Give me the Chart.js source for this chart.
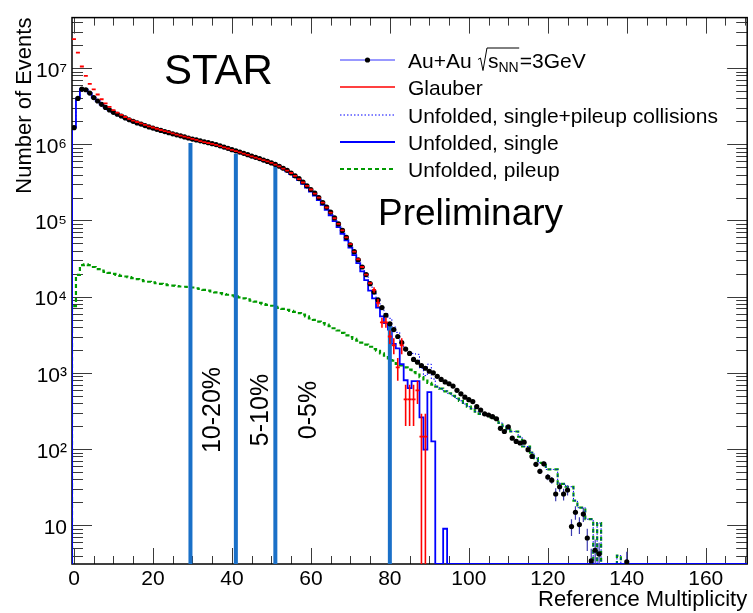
<!DOCTYPE html>
<html><head><meta charset="utf-8">
<script src="https://cdn.jsdelivr.net/npm/chart.js@4/dist/chart.umd.min.js"></script>
<style>html,body{margin:0;padding:0;background:#fff}canvas{display:block}</style>
</head><body>
<canvas id="c" width="753" height="613"></canvas>
<script>
// ---------------- data ----------------
const refMult = Array.from({length: 171}, (_, i) => i); // bin centres 0..170

const auau = [
1.65e6,4.0e6,5.3e6,5.2e6,4.7e6,4.1e6,3.7e6,3.35e6,3.05e6,2.82e6,
2.63e6,2.48e6,2.35e6,2.22e6,2.1e6,2.0e6,1.91e6,1.84e6,1.76e6,1.69e6,
1.63e6,1.57e6,1.52e6,1.47e6,1.42e6,1.37e6,1.33e6,1.29e6,1.25e6,1.21e6,
1.17e6,1.14e6,1.11e6,1.08e6,1.05e6,1.02e6,9.9e5,9.55e5,9.2e5,8.85e5,
8.5e5,8.2e5,7.9e5,7.6e5,7.3e5,7.0e5,6.75e5,6.5e5,6.2e5,5.95e5,
5.7e5,5.45e5,5.15e5,4.85e5,4.55e5,4.2e5,3.85e5,3.55e5,3.2e5,2.85e5,
2.55e5,2.28e5,2.0e5,1.72e5,1.5e5,1.29e5,1.08e5,9.0e4,7.4e4,6.0e4,
4.8e4,3.9e4,3.05e4,2.45e4,1.95e4,1.48e4,1.15e4,9.1e3,7.2e3,5.7e3,
4.4e3,3.7e3,3.0e3,2.5e3,2.05e3,1.8e3,1.5e3,1.38e3,1.25e3,1.15e3,
1.05e3,1.0e3,9.0e2,8.2e2,7.6e2,7.2e2,6.7e2,5.9e2,5.3e2,4.8e2,
4.45e2,4.2e2,3.6e2,3.25e2,2.9e2,2.8e2,2.66e2,2.5e2,1.87e2,1.7e2,
1.95e2,1.39e2,1.26e2,1.2e2,1.23e2,98,80,63,51,64,
43,39,25.7,32,25.7,29,9.6,14.8,10.2,14,
6.8,3.4,4.7,4.2,null,null,null,null,null,null,
3.3,null,null,null,null,null,null,null,null,null,
null,null,null,null,null,null,null,null,null,null,
null,null,null,null,null,null,null,null,null,null,
null
];
const auauErr = [
0,0,0,0,0,0,0,0,0,0, 0,0,0,0,0,0,0,0,0,0, 0,0,0,0,0,0,0,0,0,0,
0,0,0,0,0,0,0,0,0,0, 0,0,0,0,0,0,0,0,0,0, 0,0,0,0,0,0,0,0,0,0,
0,0,0,0,0,0,0,0,0,0, 0,0,0,0,0,0,0,0,0,0, 0,0,0,0,0,0,0,0,0,0,
0,0,0,0,0,0,0,0,0,0,
10,10,9,9,8,8,8,8,7,7,
7,6,6,6,6,5.5,5,4.5,4,4.5,
4,4,5,4.5,4.5,4.5,2.4,3,2.5,3,
2.2,1.5,1.8,1.7,0,0,0,0,0,0,
1.2,0,0,0,0,0,0,0,0,0, 0,0,0,0,0,0,0,0,0,0, 0,0,0,0,0,0,0,0,0,0,
0
];
const glauber = [
2.4e7,1.6e7,1.05e7,7.9e6,6.2e6,5.25e6,4.5e6,3.9e6,3.45e6,3.1e6,
2.8e6,2.6e6,2.43e6,2.28e6,2.16e6,2.05e6,1.96e6,1.88e6,1.8e6,1.72e6,
1.66e6,1.6e6,1.54e6,1.49e6,1.44e6,1.39e6,1.34e6,1.3e6,1.26e6,1.22e6,
1.18e6,1.14e6,1.1e6,1.07e6,1.04e6,1.01e6,9.8e5,9.45e5,9.1e5,8.8e5,
8.45e5,8.15e5,7.85e5,7.55e5,7.25e5,6.95e5,6.7e5,6.45e5,6.2e5,5.95e5,
5.7e5,5.42e5,5.12e5,4.8e5,4.5e5,4.2e5,3.85e5,3.5e5,3.15e5,2.85e5,
2.55e5,2.25e5,2.0e5,1.72e5,1.48e5,1.27e5,1.07e5,9.0e4,7.4e4,6.0e4,
4.9e4,3.9e4,3.1e4,2.45e4,1.95e4,1.5e4,1.23e4,8.3e3,4.6e3,4.6e3,
3.0e3,2.3e3,1.18e3,2.3e3,4.5e2,4.5e2,4.5e2,5.9e2,1.46e2,1.46e2,
null,null,null,null,null,null,null,null,null,null,
null,null,null,null,null,null,null,null,null,null,
null,null,null,null,null,null,null,null,null,null,
null,null,null,null,null,null,null,null,null,null,
null,null,null,null,null,null,null,null,null,null,
null,null,null,null,null,null,null,null,null,null,
null,null,null,null,null,null,null,null,null,null,
null,null,null,null,null,null,null,null,null,null,
null
];
const glauberErr = [
0,0,0,0,0,0,0,0,0,0, 0,0,0,0,0,0,0,0,0,0, 0,0,0,0,0,0,0,0,0,0,
0,0,0,0,0,0,0,0,0,0, 0,0,0,0,0,0,0,0,0,0, 0,0,0,0,0,0,0,0,0,0,
0,0,0,0,0,0,0,0,0,0,
0,0,0,0,0,0,1.0e3,1.0e3,7e2,7e2,
6e2,5.5e2,3.9e2,5.5e2,2.5e2,2.5e2,2.5e2,2e2,1.45e2,1.45e2,
0,0,0,0,0,0,0,0,0,0, 0,0,0,0,0,0,0,0,0,0, 0,0,0,0,0,0,0,0,0,0,
0,0,0,0,0,0,0,0,0,0, 0,0,0,0,0,0,0,0,0,0, 0,0,0,0,0,0,0,0,0,0,
0,0,0,0,0,0,0,0,0,0, 0,0,0,0,0,0,0,0,0,0,
0
];
const unfoldedSum = [
1.66e6,4.05e6,5.35e6,5.25e6,4.72e6,4.12e6,3.72e6,3.37e6,3.07e6,2.84e6,
2.65e6,2.5e6,2.36e6,2.23e6,2.11e6,2.01e6,1.92e6,1.85e6,1.77e6,1.7e6,
1.64e6,1.58e6,1.53e6,1.48e6,1.43e6,1.38e6,1.34e6,1.3e6,1.26e6,1.22e6,
1.18e6,1.15e6,1.12e6,1.09e6,1.06e6,1.03e6,1.0e6,9.6e5,9.25e5,8.9e5,
8.55e5,8.25e5,7.95e5,7.65e5,7.35e5,7.05e5,6.8e5,6.55e5,6.25e5,6.0e5,
5.75e5,5.45e5,5.15e5,4.8e5,4.5e5,4.15e5,3.8e5,3.45e5,3.1e5,2.78e5,
2.48e5,2.2e5,1.92e5,1.67e5,1.44e5,1.23e5,1.04e5,8.7e4,7.1e4,5.8e4,
4.9e4,3.95e4,3.1e4,2.5e4,2.0e4,1.55e4,1.2e4,9.5e3,7.3e3,6.0e3,
5.2e3,4.0e3,3.4e3,2.6e3,2.0e3,1.75e3,1.8e3,1.75e3,1.15e3,9.2e2,
1.3e3,8.3e2,6.6e2,6.2e2,5.8e2,5.4e2,5.0e2,4.6e2,4.3e2,3.9e2,
3.6e2,3.4e2,3.1e2,2.9e2,2.8e2,2.7e2,2.6e2,2.5e2,2.2e2,2.0e2,
1.8e2,1.7e2,1.7e2,1.45e2,1.08e2,1.08e2,90,76,66,66,
54,54,54,35,35,32,32,21,17,17,
12,12,0,10.7,0,0,0,0,4,0,
0,0,0,0,0,0,0,0,0,0, 0,0,0,0,0,0,0,0,0,0, 0,0,0,0,0,0,0,0,0,0,
0
];
const unfoldedSingle = [
1.65e6,4.0e6,5.3e6,5.2e6,4.7e6,4.1e6,3.7e6,3.35e6,3.05e6,2.82e6,
2.62e6,2.47e6,2.34e6,2.21e6,2.09e6,1.99e6,1.9e6,1.83e6,1.75e6,1.68e6,
1.62e6,1.56e6,1.51e6,1.46e6,1.41e6,1.36e6,1.32e6,1.28e6,1.24e6,1.2e6,
1.16e6,1.13e6,1.1e6,1.07e6,1.04e6,1.01e6,9.8e5,9.45e5,9.1e5,8.75e5,
8.4e5,8.1e5,7.8e5,7.5e5,7.2e5,6.9e5,6.65e5,6.4e5,6.1e5,5.85e5,
5.6e5,5.33e5,5.03e5,4.72e5,4.4e5,4.05e5,3.7e5,3.38e5,3.03e5,2.7e5,
2.4e5,2.12e5,1.85e5,1.6e5,1.38e5,1.17e5,9.8e4,8.2e4,6.7e4,5.5e4,
4.4e4,3.5e4,2.75e4,2.15e4,1.65e4,1.2e4,9.5e3,7.2e3,5.5e3,4.5e3,
3.7e3,2.4e3,2.1e3,1.3e3,8.0e2,6.3e2,7.8e2,7.8e2,2.6e2,98,
5.6e2,1.26e2,0,0,9,0,0,0,0,0,
0,0,0,0,0,0,0,0,0,0, 0,0,0,0,0,0,0,0,0,0, 0,0,0,0,0,0,0,0,0,0,
0,0,0,0,0,0,0,0,0,0, 0,0,0,0,0,0,0,0,0,0, 0,0,0,0,0,0,0,0,0,0,
0,0,0,0,0,0,0,0,0,0,
0
];
const unfoldedPileup = [
7.5e3,1.93e4,2.6e4,2.65e4,2.6e4,2.45e4,2.3e4,2.2e4,2.12e4,2.05e4,
1.99e4,1.93e4,1.88e4,1.84e4,1.8e4,1.75e4,1.7e4,1.65e4,1.6e4,1.57e4,
1.54e4,1.5e4,1.47e4,1.45e4,1.42e4,1.4e4,1.38e4,1.36e4,1.35e4,1.34e4,
1.32e4,1.29e4,1.26e4,1.23e4,1.2e4,1.17e4,1.14e4,1.11e4,1.08e4,1.06e4,
1.04e4,1.01e4,9.8e3,9.5e3,9.2e3,8.9e3,8.6e3,8.3e3,8.0e3,7.8e3,
7.6e3,7.35e3,7.1e3,6.9e3,6.7e3,6.5e3,6.3e3,6.1e3,5.8e3,5.5e3,
5.2e3,4.95e3,4.7e3,4.5e3,4.3e3,4.1e3,3.85e3,3.6e3,3.35e3,3.1e3,
2.95e3,2.8e3,2.65e3,2.5e3,2.35e3,2.2e3,2.05e3,1.95e3,1.8e3,1.68e3,
1.55e3,1.45e3,1.31e3,1.25e3,1.18e3,1.1e3,1.02e3,9.5e2,8.8e2,8.2e2,
7.4e2,7.0e2,6.6e2,6.2e2,5.7e2,5.4e2,5.0e2,4.6e2,4.3e2,3.9e2,
3.6e2,3.4e2,3.1e2,2.9e2,2.8e2,2.7e2,2.6e2,2.5e2,2.2e2,2.0e2,
1.8e2,1.7e2,1.7e2,1.45e2,1.08e2,1.08e2,90,76,66,66,
54,54,54,35,35,32,32,21,17,17,
12,12,0,10.7,0,0,0,0,4,0,
0,0,0,0,0,0,0,0,0,0, 0,0,0,0,0,0,0,0,0,0, 0,0,0,0,0,0,0,0,0,0,
0
];
// centrality cuts (multiplicity, height of the drawn line)
const cutPositions = [29.5, 41, 51, 80];
const cutHeights = [1.04e6, 7.5e5, 5.45e5, 4.3e3];
const centralityLabels = ['10-20%', '5-10%', '0-5%'];
const xTickValues = [0, 20, 40, 60, 80, 100, 120, 140, 160];
const yTickValues = [10, 1e2, 1e3, 1e4, 1e5, 1e6, 1e7];

// ---------------- configuration ----------------
const Y_MIN = 3.1, Y_MAX = 4.6e7, X_MIN = -0.5, X_MAX = 170.5, BIN_HALF = 0.5;
const FONT = "'Liberation Sans', Arial, Helvetica, sans-serif";
const C_BLUE = '#0000ff', C_RED = '#ff0000', C_GREEN = '#009a00', C_CUT = '#1a70c8';
Chart.defaults.font.family = FONT;

const SUP = {2: '\u00B2', 3: '\u00B3', 4: '\u2074', 5: '\u2075', 6: '\u2076', 7: '\u2077'};

function markerPoints(arr) {
  return refMult.map((m, i) => ({x: m, y: (arr[i] == null || arr[i] <= 0) ? null : arr[i]}));
}
function histPoints(arr) {
  const pts = [{x: refMult[0] - BIN_HALF, y: Y_MIN}];
  arr.forEach((v, i) => pts.push({x: refMult[i] - BIN_HALF, y: v > 0 ? v : Y_MIN}));
  const last = arr.length - 1;
  pts.push({x: refMult[last] + BIN_HALF, y: arr[last] > 0 ? arr[last] : Y_MIN});
  return pts;
}

const datasets = [
  {label: 'Au+Au', data: markerPoints(auau), showLine: false, pointRadius: 2.6,
   pointBackgroundColor: '#000', pointBorderColor: '#000', pointBorderWidth: 0, order: 1,
   errorValues: auauErr, errorColor: '#3b3bb0', errorWidth: 1.2},
  {label: 'Glauber', data: markerPoints(glauber), showLine: false, pointStyle: 'line', pointRadius: 2,
   pointBorderColor: C_RED, pointBorderWidth: 1.8, order: 0,
   errorValues: glauberErr, errorColor: C_RED, errorWidth: 1.6},
  {label: 'Unfolded, single', data: histPoints(unfoldedSingle), stepped: true, pointRadius: 0,
   borderColor: C_BLUE, borderWidth: 1.8, order: 3},
  {label: 'Unfolded, single+pileup collisions', data: histPoints(unfoldedSum), stepped: true, pointRadius: 0,
   borderColor: C_BLUE, borderWidth: 1, borderDash: [1.5, 2], order: 4},
  {label: 'Unfolded, pileup', data: histPoints(unfoldedPileup), stepped: true, pointRadius: 0,
   borderColor: C_GREEN, borderWidth: 2.2, borderDash: [4, 3], order: 5},
];
cutPositions.forEach((c, k) => datasets.push({
  label: 'cut ' + k, data: [{x: c, y: Y_MIN}, {x: c, y: cutHeights[k]}], pointRadius: 0,
  borderColor: C_CUT, borderWidth: 4, borderCapStyle: 'butt', order: 2
}));

// ---------------- plugins ----------------
const frameTicks = {
  id: 'frameTicks',
  beforeDatasetsDraw(chart) {
    const {ctx, chartArea: a, scales: {x, y}} = chart;
    ctx.save();
    ctx.lineWidth = 1; ctx.strokeStyle = '#3a3a3a';
    ctx.beginPath();
    for (let v = 0; v <= X_MAX; v += 5) {
      const px = Math.round(x.getPixelForValue(v)) + 0.5;
      const L = v % 20 === 0 ? 16 : 8;
      ctx.moveTo(px, a.bottom); ctx.lineTo(px, a.bottom - L);
      ctx.moveTo(px, a.top); ctx.lineTo(px, a.top + L);
    }
    for (let d = 0; d <= 8; d++) for (let m = 1; m <= 9; m++) {
      const v = m * Math.pow(10, d);
      if (v < Y_MIN || v > Y_MAX) continue;
      const py = Math.round(y.getPixelForValue(v)) + 0.5;
      const L = m === 1 ? 20 : 11;
      ctx.moveTo(a.left, py); ctx.lineTo(a.left + L, py);
      ctx.moveTo(a.right, py); ctx.lineTo(a.right - L, py);
    }
    ctx.stroke();
    ctx.strokeStyle = '#000'; ctx.lineWidth = 1.5;
    ctx.strokeRect(a.left, a.top, a.right - a.left, a.bottom - a.top);
    ctx.restore();
  }
};

const errorBars = {
  id: 'errorBars',
  beforeDatasetDraw(chart, args) {
    const ds = chart.data.datasets[args.index];
    if (!ds.errorValues) return;
    const {ctx, chartArea: a, scales: {x, y}} = chart;
    ctx.save();
    ctx.beginPath(); ctx.rect(a.left, a.top, a.right - a.left, a.bottom - a.top); ctx.clip();
    ctx.strokeStyle = ds.errorColor; ctx.lineWidth = ds.errorWidth;
    ctx.beginPath();
    ds.data.forEach((p, i) => {
      const e = ds.errorValues[i];
      if (p.y == null || !e) return;
      const lo = p.y - e > Y_MIN ? p.y - e : Y_MIN;
      const px = x.getPixelForValue(p.x);
      ctx.moveTo(px, y.getPixelForValue(p.y + e));
      ctx.lineTo(px, y.getPixelForValue(lo));
    });
    ctx.stroke();
    ctx.restore();
  }
};

const annotations = {
  id: 'annotations',
  afterDraw(chart) {
    const {ctx, scales: {x}} = chart;
    ctx.save();
    ctx.fillStyle = '#000';
    ctx.textBaseline = 'alphabetic';
    ctx.textAlign = 'center';
    ctx.font = '42px ' + FONT;
    ctx.fillText('STAR', 218.5, 84);
    ctx.textAlign = 'left';
    ctx.font = '37px ' + FONT;
    ctx.fillText('Preliminary', 378, 225);
    // rotated centrality labels
    const labelAt = [35.3, 47.5, 59.5];
    ctx.font = '25px ' + FONT;
    ctx.textAlign = 'center'; ctx.textBaseline = 'middle';
    centralityLabels.forEach((t, k) => {
      ctx.save();
      ctx.translate(x.getPixelForValue(labelAt[k]), 410);
      ctx.rotate(-Math.PI / 2);
      ctx.fillText(t, 0, 0);
      ctx.restore();
    });
    ctx.restore();
  }
};

const rootLegend = {
  id: 'rootLegend',
  afterDraw(chart) {
    const ctx = chart.ctx;
    const x0 = 340, x1 = 395, tx = 408;
    const rows = [60, 87, 115, 142, 169];
    ctx.save();
    // samples
    ctx.lineCap = 'butt';
    ctx.strokeStyle = '#3333ff'; ctx.lineWidth = 1;
    ctx.beginPath(); ctx.moveTo(x0, rows[0]); ctx.lineTo(x1, rows[0]); ctx.stroke();
    ctx.fillStyle = '#000'; ctx.beginPath(); ctx.arc((x0 + x1) / 2, rows[0], 2.6, 0, Math.PI * 2); ctx.fill();
    ctx.strokeStyle = C_RED; ctx.lineWidth = 1.6;
    ctx.beginPath(); ctx.moveTo(x0, rows[1]); ctx.lineTo(x1, rows[1]); ctx.stroke();
    ctx.strokeStyle = C_BLUE; ctx.lineWidth = 1; ctx.setLineDash([1.5, 2]);
    ctx.beginPath(); ctx.moveTo(x0, rows[2]); ctx.lineTo(x1, rows[2]); ctx.stroke();
    ctx.setLineDash([]); ctx.lineWidth = 1.8;
    ctx.beginPath(); ctx.moveTo(x0, rows[3]); ctx.lineTo(x1, rows[3]); ctx.stroke();
    ctx.strokeStyle = C_GREEN; ctx.lineWidth = 2.2; ctx.setLineDash([4, 3]);
    ctx.beginPath(); ctx.moveTo(x0, rows[4]); ctx.lineTo(x1, rows[4]); ctx.stroke();
    ctx.setLineDash([]);
    // texts
    ctx.fillStyle = '#000'; ctx.textAlign = 'left'; ctx.textBaseline = 'alphabetic';
    ctx.font = '21px ' + FONT;
    const off = 7.5;
    // first entry: Au+Au sqrt(s_NN)=3GeV
    let base = rows[0] + off;
    let cx = tx;
    ctx.fillText('Au+Au', cx, base);
    cx += ctx.measureText('Au+Au ').width;
    const rx = cx + 0.5;
    const sx = rx + 10;
    const sW = ctx.measureText('s').width;
    ctx.font = '14px ' + FONT;
    const nnW = ctx.measureText('NN').width;
    const endOver = sx + sW + nnW + 0.5;
    ctx.strokeStyle = '#000'; ctx.lineWidth = 1;
    ctx.beginPath();
    ctx.moveTo(rx, base - 8); ctx.lineTo(rx + 2.5, base - 9.5);
    ctx.lineTo(rx + 5, base + 3); ctx.lineTo(rx + 9, base - 19.5);
    ctx.lineTo(endOver, base - 19.5);
    ctx.stroke();
    ctx.font = '21px ' + FONT;
    ctx.fillText('s', sx, base);
    ctx.font = '14px ' + FONT;
    ctx.fillText('NN', sx + sW, base + 4.5);
    ctx.font = '21px ' + FONT;
    ctx.fillText('=3GeV', endOver + 0.5, base);
    const texts = ['Glauber', 'Unfolded, single+pileup collisions', 'Unfolded, single', 'Unfolded, pileup'];
    texts.forEach((t, k) => ctx.fillText(t, tx, rows[k + 1] + off));
    ctx.restore();
  }
};

new Chart(document.getElementById('c'), {
  type: 'line',
  data: {datasets},
  options: {
    responsive: false, animation: false, events: [],
    layout: {padding: {top: 12, right: 1, left: 0, bottom: 0}},
    plugins: {legend: {display: false}, tooltip: {enabled: false}},
    scales: {
      x: {
        type: 'linear', min: X_MIN, max: X_MAX,
        grid: {display: false, drawTicks: false}, border: {display: false},
        ticks: {font: {size: 21}, color: '#000', padding: 3, maxRotation: 0, autoSkip: false},
        afterBuildTicks: s => { s.ticks = xTickValues.map(v => ({value: v})); },
        afterFit: s => { s.height = 49; },
        title: {display: true, text: 'Reference Multiplicity', align: 'end', color: '#000',
                font: {size: 22}, padding: {top: 0, bottom: 0}}
      },
      y: {
        type: 'logarithmic', min: Y_MIN, max: Y_MAX, position: 'left',
        grid: {display: false, drawTicks: false}, border: {display: false},
        ticks: {font: {size: 21}, color: '#000', padding: 5, labelOffset: 3, autoSkip: false,
                callback: v => { const e = Math.round(Math.log10(v)); return e === 1 ? '10' : '10' + SUP[e]; }},
        afterBuildTicks: s => { s.ticks = yTickValues.map(v => ({value: v, major: true})); },
        afterFit: s => { s.width = 72; },
        title: {display: true, text: 'Number of Events', align: 'end', color: '#000',
                font: {size: 22}, padding: {top: 12, bottom: 0}}
      }
    }
  },
  plugins: [frameTicks, errorBars, annotations, rootLegend]
});
</script>
</body></html>
